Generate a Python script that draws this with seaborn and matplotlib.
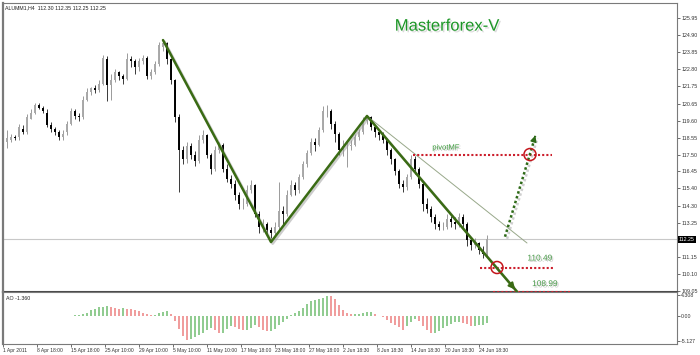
import numpy as np
import matplotlib
matplotlib.use("Agg")
import matplotlib.pyplot as plt
import matplotlib.patheffects as pe
import seaborn as sns

# ---- price bars (ALUMM1, H4) ----
opens = [118.3, 118.4, 118.6, 118.6, 119.1, 118.9, 119.7, 120.1, 120.6, 120.4,
         120.1, 119.3, 119.1, 118.9, 118.6, 118.9, 119.4, 120.2, 119.9, 119.8,
         120.9, 121.4, 121.6, 121.5, 121.9, 123.4, 121.8, 122.1, 122.6, 122.4,
         122.2, 123.4, 123.3, 122.9, 123.3, 123.5, 122.4, 122.6, 123.1, 124.2,
         124.4, 123.4, 122.1, 119.8, 117.8, 117.2, 118.0, 117.5, 117.1, 118.4,
         118.7, 117.5, 116.6, 117.8, 118.1, 116.6, 116.0, 115.7, 115.0, 114.4,
         114.4, 115.3, 115.6, 113.8, 113.0, 113.2, 112.8, 112.6, 113.0, 114.0,
         113.8, 115.0, 115.6, 115.3, 116.1, 116.9, 117.6, 118.3, 118.1, 119.05,
         120.2, 120.2, 119.4, 118.8, 117.8, 118.0, 118.0, 118.1, 118.6, 118.9,
         119.6, 119.8, 119.2, 118.9, 118.7, 118.4, 117.8, 117.2, 116.5, 115.7,
         115.5, 116.1, 117.2, 116.6, 115.7, 114.4, 114.1, 113.6, 113.2, 113.0,
         113.0, 113.5, 113.3, 113.2, 113.6, 113.2, 112.2, 111.9, 112.0, 111.6,
         111.3]
highs = [119.0, 118.8, 118.7, 119.4, 119.3, 120.0, 120.3, 120.7, 120.7, 120.5,
         120.3, 119.5, 119.2, 119.0, 119.0, 119.6, 120.4, 120.3, 120.1, 121.1,
         121.6, 121.7, 121.8, 122.1, 123.7, 123.6, 122.5, 122.8, 122.7, 122.5,
         123.8, 123.6, 123.4, 123.5, 123.7, 123.6, 122.8, 123.3, 124.5, 124.6,
         124.5, 123.5, 122.2, 120.0, 118.0, 118.3, 118.2, 117.7, 118.7, 119.0,
         118.8, 117.6, 118.0, 118.3, 118.2, 116.9, 116.2, 115.9, 115.2, 114.8,
         115.6, 115.9, 115.7, 114.0, 113.5, 113.3, 113.0, 113.3, 115.8, 114.3,
         115.3, 115.9, 115.8, 116.3, 117.1, 117.8, 118.5, 118.5, 119.2, 120.5,
         120.6, 120.3, 119.6, 118.9, 118.4, 118.3, 118.4, 118.8, 119.1, 119.8,
         119.95, 119.9, 119.3, 119.0, 118.9, 118.5, 117.9, 117.3, 116.6, 115.9,
         116.3, 117.5, 117.4, 116.7, 115.8, 114.8, 114.3, 113.8, 113.4, 113.3,
         113.8, 113.7, 113.6, 113.9, 113.8, 113.3, 112.4, 112.3, 112.1, 111.8,
         112.5]
lows = [117.9, 118.3, 118.4, 118.4, 118.8, 118.8, 119.7, 120.0, 120.3, 120.1,
        119.2, 118.9, 118.7, 118.4, 118.4, 118.7, 119.3, 119.7, 119.6, 119.7,
        120.8, 121.2, 121.3, 121.4, 121.8, 120.8, 120.9, 122.0, 122.1, 121.9,
        122.1, 122.9, 122.5, 122.7, 123.1, 122.2, 122.2, 122.5, 123.0, 123.9,
        123.1, 121.9, 119.5, 115.2, 116.9, 117.0, 117.2, 116.8, 117.0, 118.2,
        117.3, 116.3, 116.5, 117.6, 116.4, 115.8, 115.4, 114.7, 114.1, 114.1,
        114.3, 115.1, 113.6, 112.6, 112.7, 112.5, 112.3, 112.4, 112.9, 113.2,
        113.7, 114.9, 115.0, 115.1, 116.0, 116.7, 117.5, 117.7, 118.0, 118.9,
        119.8, 119.1, 118.3, 117.5, 117.4, 116.7, 117.8, 118.0, 118.4, 118.8,
        119.4, 119.0, 118.6, 118.4, 118.2, 117.5, 116.9, 116.2, 115.4, 115.2,
        115.3, 116.0, 116.3, 115.4, 114.0, 113.9, 113.3, 112.9, 112.8, 112.8,
        112.9, 113.0, 112.9, 113.0, 112.9, 111.8, 111.6, 111.7, 111.3, 111.05,
        111.2]
closes = [118.5, 118.6, 118.5, 119.2, 118.9, 119.8, 120.1, 120.6, 120.4, 120.2,
          119.3, 119.1, 118.9, 118.6, 118.8, 119.4, 120.2, 119.9, 119.8, 120.9,
          121.4, 121.6, 121.5, 121.9, 123.5, 121.8, 122.1, 122.6, 122.4, 122.2,
          123.4, 123.3, 122.9, 123.3, 123.5, 122.4, 122.6, 123.1, 124.3, 124.4,
          123.4, 122.1, 119.8, 117.8, 117.2, 118.0, 117.5, 117.1, 118.4, 118.7,
          117.5, 116.6, 117.8, 118.1, 116.6, 116.0, 115.7, 115.0, 114.4, 114.4,
          115.3, 115.6, 113.8, 113.0, 113.2, 112.8, 112.6, 113.0, 114.0, 113.8,
          115.0, 115.6, 115.3, 116.1, 116.9, 117.6, 118.3, 118.1, 119.05, 120.2,
          120.2, 119.4, 118.8, 117.8, 118.0, 118.0, 118.1, 118.6, 118.9, 119.6,
          119.8, 119.2, 118.9, 118.7, 118.4, 117.8, 117.2, 116.5, 115.7, 115.5,
          116.1, 117.2, 116.6, 115.7, 114.4, 114.1, 113.6, 113.2, 113.0, 113.0,
          113.5, 113.3, 113.2, 113.6, 113.2, 112.2, 111.9, 112.0, 111.6, 111.3,
          112.25]

# Awesome Oscillator, starts at bar 17
ao_start = 17
ao_values = [0.3, 0.3, 0.35, 0.7, 1.2, 1.5, 1.8, 1.9, 2.1, 1.9,
             1.6, 1.4, 1.6, 1.5, 1.4, 1.3, 1.1, 0.7, 0.35, 0.15,
             0.2, 0.6, 0.9, 1.1, 0.4, -1.0, -2.6, -4.1, -4.9, -4.8,
             -4.4, -4.0, -3.4, -2.8, -2.5, -2.9, -3.5, -3.4, -2.6, -2.0,
             -2.2, -2.6, -2.8, -2.8, -2.4, -1.8, -2.2, -2.8, -3.1, -3.0,
             -2.6, -1.8, -1.2, -0.6, 0.2, 0.6, 1.0, 1.6, 2.5, 3.1,
             3.3, 3.5, 3.8, 4.2, 4.1, 3.4, 2.2, 1.3, 0.6, 0.4,
             0.45, 0.5, 0.6, 0.75, 0.8, 0.5, 0.1, -0.2, -0.8, -1.4,
             -1.9, -2.3, -2.8, -2.0, -1.2, -0.7, -1.0, -2.0, -2.9, -3.5,
             -3.4, -3.0, -2.5, -2.0, -1.6, -1.3, -1.3, -1.4, -1.7, -2.0,
             -2.0, -1.9, -1.8, -1.36]

# axis labels
price_ticks = [125.95, 124.90, 123.85, 122.80, 121.75, 120.65, 119.60, 118.55,
               117.50, 116.45, 115.40, 114.30, 113.25, 111.15, 110.10, 109.05]
last_price = 112.25
ao_ticks = [4.308, 0.0, -5.127]
ao_tick_labels = ["4.308", "0.00", "-5.127"]
date_labels = ["1 Apr 2011", "8 Apr 18:00", "15 Apr 18:00", "25 Apr 10:00",
               "29 Apr 10:00", "5 May 10:00", "11 May 10:00", "17 May 18:00",
               "23 May 18:00", "27 May 18:00", "2 Jun 18:30", "8 Jun 18:30",
               "14 Jun 18:30", "20 Jun 18:30", "24 Jun 18:30"]
bars_per_label = 17

# analysis drawn on the chart (x in bar units, y in price)
zigzag_x = [80, 134, 182, 257]
zigzag_y = [124.60, 112.07, 119.89, 108.99]
thin_x = [182, 262]
thin_y = [119.89, 112.01]
level_names = ["pivotMF", "110.49", "108.99"]
level_y = [117.50, 110.49, 108.99]
level_x0 = [205, 238.5, 245]
level_x1 = [274.5, 276, 283.5]
circle_x = [247, 263.5]
circle_y = [110.49, 117.50]
forecast_x = [251, 266.2]
forecast_y = [112.40, 118.65]

# ---------------------------------------------------------------
sns.set_theme(style="white")
plt.rcParams["font.family"] = ["Liberation Sans", "DejaVu Sans"]

O, H, L, C = map(np.array, (opens, highs, lows, closes))
bar_pos = np.arange(len(C)) * 2 + 2

fig = plt.figure(figsize=(7, 3.55), dpi=100)
ax = fig.add_axes([3 / 700, 63 / 355, 674 / 700, 289 / 355])
ax2 = fig.add_axes([3 / 700, 11 / 355, 674 / 700, 52 / 355])

small = 3.8

# candles
up = C >= O
ax.vlines(bar_pos, L, H, colors=np.where(up, "#8a8a8a", "#1a1a1a"), lw=0.6, zorder=2)
ax.vlines(bar_pos, np.minimum(O, C), np.maximum(O, C),
          colors=np.where(up, "#a8a8a8", "#000000"), lw=1.4, zorder=3)
ax.axhline(last_price, color="#c8c8c8", lw=0.8, zorder=1)

shadow = [pe.SimpleLineShadow(offset=(1.2, -1.2), shadow_color="#9a9a9a", alpha=0.5), pe.Normal()]
sns.lineplot(x=zigzag_x, y=zigzag_y, ax=ax, sort=False, color="#3a6b14", lw=1.8,
             path_effects=shadow, zorder=6)
ax.annotate("", xy=(zigzag_x[-1], zigzag_y[-1]), xytext=(zigzag_x[-1] - 4, zigzag_y[-1] + 0.58),
            arrowprops=dict(arrowstyle="-|>", color="#3a6b14", lw=1.5, mutation_scale=9), zorder=7)
sns.lineplot(x=thin_x, y=thin_y, ax=ax, sort=False, color="#98a88a", lw=0.7, zorder=4)

ax.hlines(level_y, level_x0, level_x1, colors="#cc1f2d", linestyles=(0, (1, 1)), lw=1.5, zorder=5)
ax.plot(forecast_x, forecast_y, ls=(0, (1, 1)), lw=1.8, color="#2e6a18",
        path_effects=[pe.SimpleLineShadow(offset=(1.5, -1.5), shadow_color="#b0b0b0", alpha=0.6), pe.Normal()],
        zorder=6)
ax.annotate("", xy=(forecast_x[1] + 0.4, forecast_y[1] + 0.2), xytext=(forecast_x[1] - 0.6, forecast_y[1] - 0.2),
            arrowprops=dict(arrowstyle="-|>", color="#2e6a18", lw=1, mutation_scale=9), zorder=7)
ax.scatter(circle_x, circle_y, s=75, facecolors="none", edgecolors="#c4161c", lw=1.1, zorder=8)

txt_fx = [pe.withSimplePatchShadow(offset=(1, -1), shadow_rgbFace="#a0a0a0", alpha=0.5)]
ax.text(221.5, 117.90, level_names[0], color="#3c9a3c", fontsize=5.5, ha="center", va="center",
        path_effects=txt_fx)
ax.text(268.5, 111.02, level_names[1], color="#4a9a4a", fontsize=6, ha="center", va="center",
        path_effects=txt_fx)
ax.text(271, 109.43, level_names[2], color="#4a9a4a", fontsize=6, ha="center", va="center",
        path_effects=txt_fx)
ax.text(0.659, 0.92, "Masterforex-V", transform=ax.transAxes, color="#1c9626", fontsize=12,
        ha="center", va="center",
        path_effects=[pe.withSimplePatchShadow(offset=(1.2, -1.2), shadow_rgbFace="#9a9a9a", alpha=0.35)])
ax.text(0.003, 0.992, "ALUMM1,H4  112.30 112.35 112.25 112.25", transform=ax.transAxes,
        fontsize=small, va="top", ha="left", color="#222222")

ax.set_xlim(0, 337)
ax.set_ylim(108.97, 126.90)
ax.yaxis.tick_right()
ax.set_yticks(price_ticks)
ax.set_yticklabels([f"{v:.2f}" for v in price_ticks])
ax.tick_params(axis="y", right=True, length=2, width=0.5, pad=1, labelsize=small, colors="#333333")
ax.tick_params(axis="x", bottom=False, labelbottom=False)
ax.text(1.003, last_price, f"{last_price:.2f}", transform=ax.get_yaxis_transform(), fontsize=small,
        color="white", va="center", ha="left",
        bbox=dict(boxstyle="square,pad=0.2", fc="black", ec="none"))

# AO panel
ao = np.array(ao_values)
ao_pos = bar_pos[ao_start:]
ao_prev = np.concatenate([[ao[0]], ao[:-1]])
ao_cols = np.where(ao >= ao_prev, "#7cc27c", "#ee8a8a")
ax2.vlines(ao_pos, 0, ao, colors=ao_cols, lw=1.2)
ax2.set_xlim(0, 337)
ax2.set_ylim(-5.76, 4.94)
ax2.yaxis.tick_right()
ax2.set_yticks(ao_ticks)
ax2.set_yticklabels(ao_tick_labels)
ax2.tick_params(axis="y", right=True, length=2, width=0.5, pad=1, labelsize=small, colors="#333333")
tick_pos = np.arange(len(date_labels)) * bars_per_label
ax2.set_xticks(tick_pos)
ax2.set_xticklabels(date_labels, ha="left")
ax2.tick_params(axis="x", bottom=True, length=2, width=0.5, pad=1, labelsize=3.6, colors="#333333")
ax2.text(0.004, 0.93, "AO -1.360", transform=ax2.transAxes, fontsize=small, va="top", ha="left",
         color="#222222")

for a in (ax, ax2):
    for s in a.spines.values():
        s.set_color("#7a7a7a")
        s.set_linewidth(0.8)
    a.spines["left"].set_linewidth(1.6)
ax.spines["bottom"].set_color("#4a4a4a")
ax.spines["bottom"].set_linewidth(1.5)

fig.savefig("out.png", dpi=100)
